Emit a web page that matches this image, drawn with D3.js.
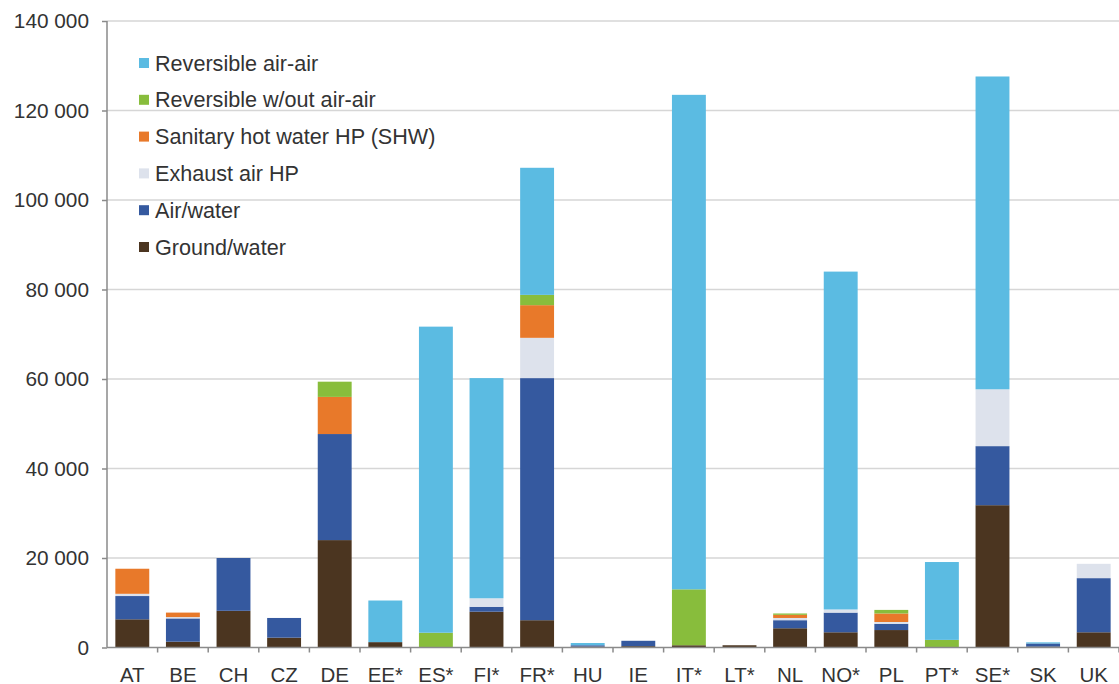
<!DOCTYPE html>
<html><head><meta charset="utf-8">
<script src="https://cdn.jsdelivr.net/npm/d3@7"></script>
<style>
html,body{margin:0;padding:0;background:#fff;}
svg{display:block;font-family:"Liberation Sans",Arial,sans-serif;}
</style></head>
<body>
<svg id="chart" width="1119" height="684"></svg>
<script>
const categories = ["AT","BE","CH","CZ","DE","EE*","ES*","FI*","FR*","HU","IE","IT*","LT*","NL","NO*","PL","PT*","SE*","SK","UK"];
const seriesNames = ["Ground/water","Air/water","Exhaust air HP","Sanitary hot water HP (SHW)","Reversible w/out air-air","Reversible air-air"];
const groundWater = [6300,1300,8200,2200,24000,1200,0,8000,6100,200,300,500,500,4300,3400,3900,0,31800,200,3400];
const airWater    = [5200,5200,11800,4400,23700,0,0,1100,54100,300,1200,0,0,1800,4400,1400,0,13200,700,12100];
const exhaustAir  = [500,300,0,0,0,0,0,1900,9000,0,0,0,0,500,700,400,0,12700,0,3200];
const sanitaryHW  = [5600,1000,0,0,8300,0,0,0,7300,0,0,0,0,700,0,1900,0,0,0,0];
const revWithout  = [0,0,0,0,3400,0,3300,0,2300,0,0,12500,0,300,0,800,1700,0,0,0];
const revAirAir   = [0,0,0,0,0,9300,68400,49200,28400,500,0,110500,0,0,75500,0,17400,69900,250,0];
const yTicks = [0,20000,40000,60000,80000,100000,120000,140000];
const colors = ["#4b3520","#35599f","#dde2ec","#e8792a","#88bd3c","#5bbbe2"];

const seriesValues = [groundWater, airWater, exhaustAir, sanitaryHW, revWithout, revAirAir];
const table = categories.map((c,i)=>{
  const o = {cat:c};
  seriesNames.forEach((s,j)=>o[s]=seriesValues[j][i]);
  return o;
});

const svg = d3.select("#chart");
const mLeft = 107, mRight = 1119, mTop = 21, mBottom = 647.5;
const x = d3.scaleBand().domain(categories).range([mLeft,mRight]).paddingInner(0.33).paddingOuter(0.165);
const y = d3.scaleLinear().domain([0,140000]).range([mBottom,mTop]);
const textColor = "#333333";

// gridlines
svg.append("g").selectAll("line").data(yTicks.filter(d=>d>0)).join("line")
  .attr("x1",mLeft).attr("x2",mRight).attr("y1",d=>y(d)).attr("y2",d=>y(d))
  .attr("stroke","#d6d6d6").attr("stroke-width",1.5);

// bars
const stack = d3.stack().keys(seriesNames)(table);
svg.append("g").selectAll("g").data(stack).join("g")
  .attr("fill",(d,i)=>colors[i])
  .selectAll("rect").data(d=>d).join("rect")
  .attr("x",d=>x(d.data.cat)).attr("width",x.bandwidth())
  .attr("y",d=>y(d[1])).attr("height",d=>Math.max(0,y(d[0])-y(d[1])));

// y axis
const yAxis = svg.append("g").attr("transform",`translate(${mLeft},0)`)
  .call(d3.axisLeft(y).tickValues(yTicks).tickSize(5).tickPadding(13)
    .tickFormat(d=>d3.format(",")(d).replace(/,/g," ")));
yAxis.select(".domain").attr("stroke","#8a8a8a").attr("stroke-width",1.5).attr("d",`M0,${mBottom}V${mTop}`);
yAxis.selectAll(".tick line").attr("stroke","#8a8a8a").attr("stroke-width",1.5);
yAxis.selectAll("text").attr("fill",textColor).attr("font-size","20.8px").attr("font-family","Liberation Sans, Arial, sans-serif");

// x axis
const xg = svg.append("g").attr("transform",`translate(0,${mBottom})`);
xg.append("line").attr("x1",mLeft).attr("x2",mRight).attr("stroke","#8a8a8a").attr("stroke-width",1.5);
const step = x.step();
xg.selectAll("line.tk").data(categories).join("line").attr("class","tk")
  .attr("x1",(d)=>x(d)+x.bandwidth()+step*x.paddingInner()/2)
  .attr("x2",(d)=>x(d)+x.bandwidth()+step*x.paddingInner()/2)
  .attr("y1",0).attr("y2",5).attr("stroke","#8a8a8a").attr("stroke-width",1.5);
xg.selectAll("text").data(categories).join("text")
  .attr("x",d=>x(d)+x.bandwidth()/2).attr("y",34)
  .attr("text-anchor","middle").attr("fill",textColor).attr("font-size","20.5px")
  .text(d=>d);

// legend
const legendOrder = seriesNames.map((s,i)=>({name:s,color:colors[i]})).reverse();
const lg = svg.append("g");
legendOrder.forEach((d,i)=>{
  const cy = 63 + i*36.8;
  lg.append("rect").attr("x",139).attr("y",cy-5).attr("width",10).attr("height",10).attr("fill",d.color);
  lg.append("text").attr("x",155).attr("y",cy+7.5).attr("fill",textColor).attr("font-size","21.6px").text(d.name);
});
</script>
</body></html>
